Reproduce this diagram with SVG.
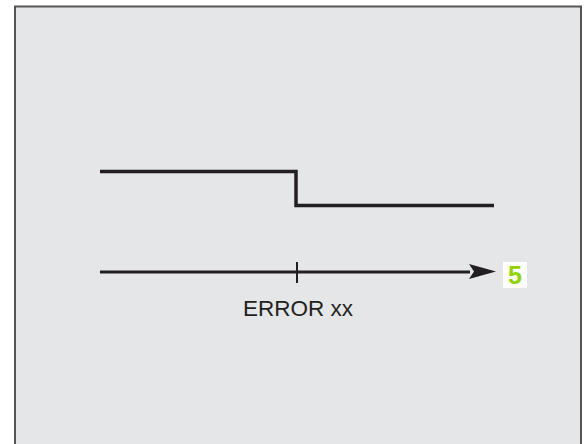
<svg xmlns="http://www.w3.org/2000/svg" width="586" height="444" viewBox="0 0 586 444">
<style>
.sig{fill:none;stroke:#231f20;stroke-width:3.5;stroke-linejoin:miter;stroke-linecap:butt}
.lbl{font-family:"Liberation Sans",Arial,sans-serif;font-size:22.5px;fill:#231f20}
.num{font-family:"Liberation Sans",Arial,sans-serif;font-size:25px;font-weight:bold;fill:#8fd400}
</style>
<rect x="15" y="6.5" width="566" height="445" fill="#e5e6e8" stroke="#555" stroke-width="2"/>
<g id="signal">
<path class="sig" d="M100,171.5 H296 V205.5 H494"/>
</g>
<g id="connectors">
<line x1="100" y1="272" x2="470" y2="272" stroke="#231f20" stroke-width="3"/>
<path d="M469,264 L496,271.5 L469,279 L474,271.5 Z" fill="#231f20"/>
<line x1="297" y1="262" x2="297" y2="283" stroke="#231f20" stroke-width="2"/>
</g>
<g id="label-error">
<text class="lbl" x="298" y="316" text-anchor="middle">ERROR xx</text>
</g>
<g id="label-5">
<rect x="503" y="262" width="24" height="26" fill="#ffffff"/>
<text class="num" x="515" y="284" text-anchor="middle">5</text>
</g>
</svg>
